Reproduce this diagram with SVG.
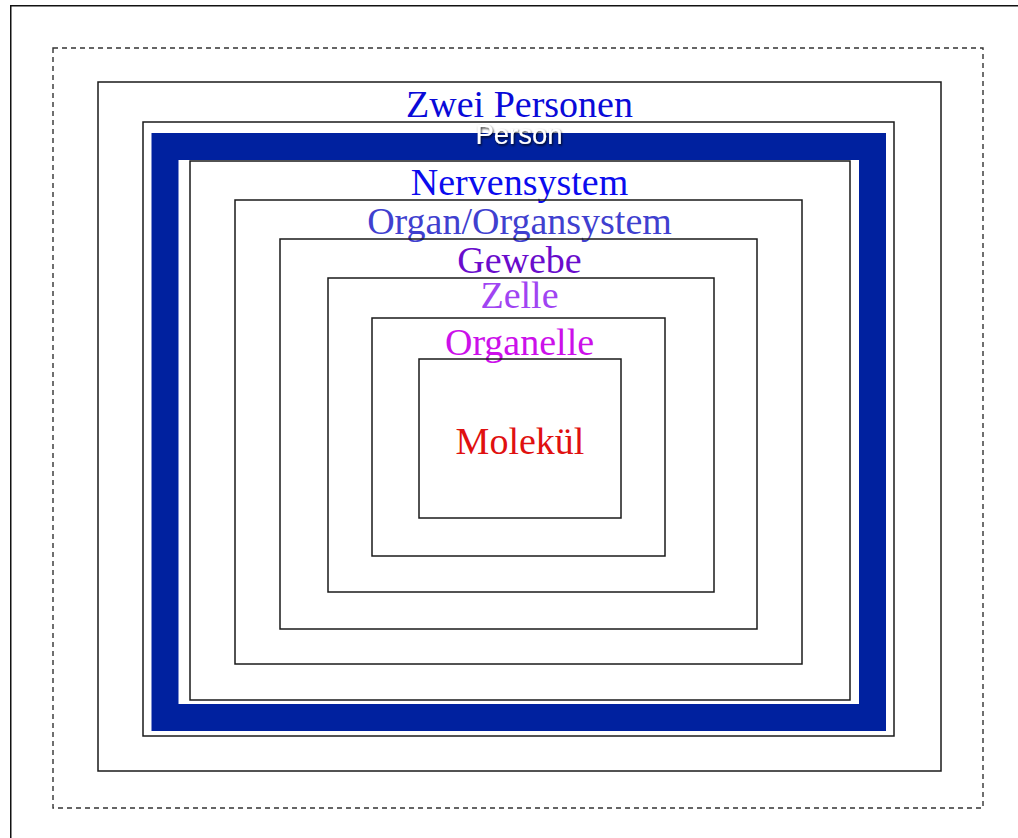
<svg xmlns="http://www.w3.org/2000/svg" width="1018" height="838" viewBox="0 0 1018 838">
  <defs>
    <style>
      .box { fill: none; stroke: #1a1a1a; stroke-width: 1.5; }
      .lbl { font-family: "Liberation Serif", "Times New Roman", serif; font-size: 38px; text-anchor: middle; }
    </style>
    <filter id="shade" x="-20%" y="-40%" width="140%" height="180%">
      <feDropShadow dx="1" dy="1.5" stdDeviation="1" flood-color="#000" flood-opacity="0.85"/>
    </filter>
  </defs>
  <rect width="1018" height="838" fill="#fff"/>
  <!-- outer frame -->
  <rect x="10.75" y="5.75" width="1020" height="840" fill="none" stroke="#111" stroke-width="1.5"/>

  <g id="environment">
    <rect x="53" y="48" width="930" height="760" fill="none" stroke="#333" stroke-width="1.4" stroke-dasharray="5 4"/>
  </g>

  <g id="zwei-personen">
    <rect class="box" x="98" y="82" width="843" height="689"/>
    <text class="lbl" x="519.5" y="117" fill="#0a0ad8">Zwei Personen</text>
  </g>

  <g id="person">
    <rect class="box" x="143" y="122" width="751" height="614"/>
    <rect x="165" y="146.5" width="707.5" height="571" fill="none" stroke="#00219f" stroke-width="27"/>
    <text x="519" y="144" font-family="Liberation Sans, Arial, sans-serif" font-size="27.5px" text-anchor="middle" fill="#fff" filter="url(#shade)">Person</text>
  </g>

  <g id="nervensystem">
    <rect class="box" x="190" y="161" width="660" height="539"/>
    <text class="lbl" x="519.5" y="194.5" fill="#0b0bee">Nervensystem</text>
  </g>

  <g id="organ">
    <rect class="box" x="235" y="200" width="567" height="464"/>
    <text class="lbl" x="519.5" y="233.5" fill="#4040cf">Organ/Organsystem</text>
  </g>

  <g id="gewebe">
    <rect class="box" x="280" y="239" width="477" height="390"/>
    <text class="lbl" x="519.5" y="272.5" fill="#6a0ccc">Gewebe</text>
  </g>

  <g id="zelle">
    <rect class="box" x="328" y="278" width="386" height="314"/>
    <text class="lbl" x="519.5" y="307.5" fill="#a044f2">Zelle</text>
  </g>

  <g id="organelle">
    <rect class="box" x="372" y="318" width="293" height="238"/>
    <text class="lbl" x="519.5" y="354.5" fill="#cc10ea">Organelle</text>
  </g>

  <g id="molekuel">
    <rect class="box" x="419" y="359" width="202" height="159"/>
    <text class="lbl" x="520" y="453.5" fill="#e01010">Molekül</text>
  </g>

  <g id="connectors"/>
</svg>
